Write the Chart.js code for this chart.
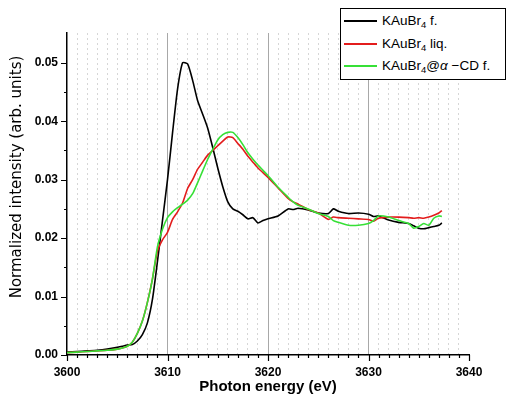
<!DOCTYPE html>
<html>
<head>
<meta charset="utf-8">
<script src="https://cdn.jsdelivr.net/npm/chart.js@4/dist/chart.umd.min.js"></script>
<style>
	body { margin: 0; background: #fff; }
	#wrap { position: relative; width: 506px; height: 404px; }
	#legend {
		position: absolute; left: 340px; top: 8px; width: 164px; height: 70px;
		border: 1px solid #000; background: #fff;
		font-family: "Liberation Sans", Arial, sans-serif; font-size: 13.5px; color: #000;
	}
	#legend .row { position: absolute; left: 0; height: 20px; line-height: 20px; white-space: nowrap; }
	#legend .swatch { position: absolute; left: 3px; top: 9px; width: 33px; height: 2px; }
	#legend .label { position: absolute; left: 41px; top: 0; }
	#legend sub { font-size: 9.5px; vertical-align: -3px; line-height: 0; }
</style>
</head>
<body>
<div id="wrap">
	<canvas id="xanesChart" width="506" height="404"></canvas>
	<div id="legend"></div>
</div>
<script>
const energies = [
	3600, 3601, 3602, 3603, 3604, 3605, 3605.5, 3606, 3606.5, 3607,
	3607.5, 3608, 3608.5, 3609, 3609.5, 3610, 3610.5, 3611, 3611.5, 3612,
	3612.5, 3613, 3613.5, 3614, 3614.5, 3615, 3615.5, 3616, 3616.5, 3617,
	3617.5, 3618, 3618.5, 3619, 3619.5, 3620, 3621, 3622, 3622.5, 3623,
	3624, 3625, 3626, 3626.5, 3627, 3628, 3629, 3630, 3630.5, 3631,
	3632, 3633, 3634, 3634.5, 3635, 3635.5, 3636, 3636.5, 3637, 3637.3
];

const solidValues = [
	0.0005, 0.0006, 0.0007, 0.0008, 0.0010, 0.0013, 0.0015, 0.0017, 0.0018, 0.0024,
	0.0035, 0.0055, 0.0095, 0.0160, 0.0230, 0.0300, 0.0380, 0.0455, 0.0500, 0.0498,
	0.0470, 0.0435, 0.0412, 0.0388, 0.0355, 0.0320, 0.0288, 0.0262, 0.0250, 0.0246,
	0.0240, 0.0233, 0.0235, 0.0226, 0.0230, 0.0233, 0.0238, 0.0250, 0.0249, 0.0251,
	0.0248, 0.0243, 0.0242, 0.0250, 0.0246, 0.0242, 0.0243, 0.0241, 0.0237, 0.0238,
	0.0231, 0.0227, 0.0225, 0.0221, 0.0217, 0.0216, 0.0218, 0.0220, 0.0222, 0.0226
];

const liquidValues = [
	0.0004, 0.0005, 0.0006, 0.0007, 0.0008, 0.0010, 0.0012, 0.0015, 0.0022, 0.0037,
	0.0058, 0.0090, 0.0130, 0.0178, 0.0197, 0.0210, 0.0232, 0.0245, 0.0260, 0.0285,
	0.0300, 0.0318, 0.0330, 0.0342, 0.0350, 0.0358, 0.0366, 0.0373, 0.0372, 0.0362,
	0.0352, 0.0340, 0.0330, 0.0320, 0.0312, 0.0304, 0.0286, 0.0268, 0.0262, 0.0258,
	0.0249, 0.0243, 0.0232, 0.0236, 0.0235, 0.0234, 0.0233, 0.0232, 0.0229, 0.0234,
	0.0236, 0.0236, 0.0235, 0.0234, 0.0235, 0.0234, 0.0236, 0.0239, 0.0243, 0.0247
];

const cdValues = [
	0.0004, 0.0005, 0.0006, 0.0007, 0.0008, 0.0010, 0.0012, 0.0015, 0.0022, 0.0037,
	0.0058, 0.0090, 0.0130, 0.0185, 0.0215, 0.0235, 0.0245, 0.0252, 0.0258, 0.0265,
	0.0276, 0.0295, 0.0315, 0.0335, 0.0352, 0.0368, 0.0377, 0.0381, 0.0381, 0.0372,
	0.0360, 0.0346, 0.0335, 0.0325, 0.0316, 0.0307, 0.0287, 0.0270, 0.0262, 0.0256,
	0.0250, 0.0242, 0.0237, 0.0230, 0.0227, 0.0222, 0.0222, 0.0225, 0.0230, 0.0238,
	0.0236, 0.0230, 0.0225, 0.0217, 0.0220, 0.0225, 0.0222, 0.0234, 0.0238, 0.0237
];

const seriesLabels = ['KAuBr<sub>4</sub> f.', 'KAuBr<sub>4</sub> liq.', 'KAuBr<sub>4</sub>@<i>α</i> −CD f.'];
const seriesColors = ['#000000', '#e31c1c', '#36e036'];

const xMin = 3600;
const xMax = 3640;
const yMin = 0;
const yMax = 0.0551;
const yTitle = 'Normalized intensity (arb. units)';

// tick marks drawn outside the axes, long for labelled ticks, short for minor ones
const axisTicksPlugin = {
	id: 'axisTicks',
	afterDraw(chart) {
		const ctx = chart.ctx;
		const xs = chart.scales.x;
		const ys = chart.scales.y;
		ctx.save();
		ctx.strokeStyle = '#000';
		ctx.lineWidth = 1.2;
		ctx.beginPath();
		xs.ticks.forEach(t => {
			const px = Math.round(xs.getPixelForValue(t.value)) + 0.5;
			const len = t.value % 10 === 0 ? 6 : 3;
			ctx.moveTo(px, ys.bottom);
			ctx.lineTo(px, ys.bottom + len);
		});
		ys.ticks.forEach(t => {
			const k = Math.round(t.value * 1000);
			if (Math.abs(t.value * 1000 - k) > 1e-6 || k % 5 !== 0) return;
			const py = Math.round(ys.getPixelForValue(t.value)) + 0.5;
			const len = k % 10 === 0 ? 6 : 3;
			ctx.moveTo(xs.left, py);
			ctx.lineTo(xs.left - len, py);
		});
		ctx.stroke();

		// y title sits a little above the middle of the axis, as in the original
		ctx.translate(17, 177);
		ctx.rotate(-Math.PI / 2);
		ctx.fillStyle = '#000';
		ctx.font = '15px "DejaVu Sans"';
		ctx.textAlign = 'center';
		ctx.textBaseline = 'middle';
		ctx.fillText(yTitle, 0, 0);
		ctx.restore();
	}
};

function buildChart() {
	const series = [solidValues, liquidValues, cdValues];
	const datasets = series.map((values, i) => ({
		label: seriesLabels[i],
		data: energies.map((e, j) => ({ x: e, y: values[j] })),
		borderColor: seriesColors[i],
		borderWidth: 1.6,
		pointRadius: 0,
		tension: 0.2,
		fill: false
	})).reverse(); // black on top

	const ctx = document.getElementById('xanesChart').getContext('2d');

	window.xanesChart = new Chart(ctx, {
		type: 'line',
		data: { datasets: datasets },
		plugins: [axisTicksPlugin],
		options: {
			responsive: false,
			animation: false,
			layout: { padding: { top: 33, right: 37, left: 0, bottom: 0 } },
			plugins: {
				legend: { display: false },
				tooltip: { enabled: false }
			},
			scales: {
				x: {
					type: 'linear',
					min: xMin,
					max: xMax,
					afterFit: scale => { scale.height = 49; },
					ticks: {
						stepSize: 1,
						autoSkip: false,
						maxRotation: 0,
						padding: 10,
						color: '#000',
						font: { family: 'Liberation Sans', size: 12, weight: 'bold' },
						callback: v => (v % 10 === 0 ? String(v) : '')
					},
					grid: {
						drawTicks: false,
						lineWidth: 1,
						color: c => {
							const v = c.tick ? c.tick.value : 0;
							if (v === xMin || v === xMax) return 'rgba(0,0,0,0)';
							return v % 10 === 0 ? '#a8a8a8' : '#d6d6d6';
						}
					},
					border: {
						color: '#000',
						width: 1.5,
						dash: c => (c.tick && c.tick.value % 10 !== 0 ? [2, 3] : [])
					},
					title: {
						display: true,
						text: 'Photon energy (eV)',
						color: '#000',
						font: { family: 'Liberation Sans', size: 15, weight: 'bold' },
						padding: { top: 0, bottom: 8 }
					}
				},
				y: {
					min: yMin,
					max: yMax,
					afterFit: scale => { scale.width = 67; },
					ticks: {
						stepSize: 0.005,
						padding: 9,
						color: '#000',
						font: { family: 'Liberation Sans', size: 12, weight: 'bold' },
						callback: v => {
							const k = Math.round(v * 100);
							return Math.abs(v * 100 - k) < 1e-6 ? v.toFixed(2) : '';
						}
					},
					grid: { drawOnChartArea: false, drawTicks: false },
					border: { color: '#000', width: 1.5 }
				}
			}
		}
	});

	buildLegend();
}

function buildLegend() {
	const legend = document.getElementById('legend');
	seriesLabels.forEach((label, i) => {
		const row = document.createElement('div');
		row.className = 'row';
		row.style.top = (2 + i * 22.5) + 'px';
		row.innerHTML = '<span class="swatch" style="background:' + seriesColors[i] + '"></span>' +
			'<span class="label">' + label + '</span>';
		legend.appendChild(row);
	});
}

buildChart();
</script>
</body>
</html>
